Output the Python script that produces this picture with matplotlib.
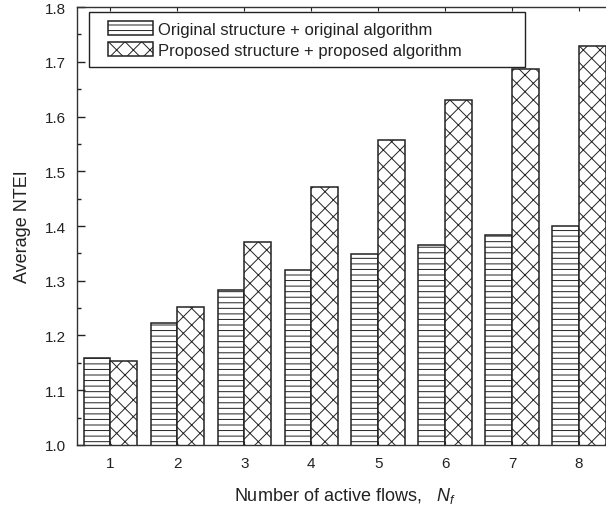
import numpy as np
import matplotlib
matplotlib.use('Agg')
import matplotlib.pyplot as plt
from matplotlib.patches import Rectangle
from matplotlib.legend_handler import HandlerPatch
from matplotlib.ticker import MultipleLocator

plt.rcParams['font.family'] = ['Liberation Sans', 'DejaVu Sans']
plt.rcParams['mathtext.fontset'] = 'custom'
plt.rcParams['mathtext.it'] = 'Liberation Sans:italic'
plt.rcParams['mathtext.rm'] = 'Liberation Sans'
plt.rcParams['hatch.linewidth'] = 0.7

# data
flows = [1, 2, 3, 4, 5, 6, 7, 8]
original = [1.158, 1.223, 1.284, 1.320, 1.349, 1.366, 1.384, 1.400]
proposed = [1.153, 1.252, 1.370, 1.472, 1.557, 1.631, 1.686, 1.729]
labels = ['Original structure + original algorithm',
          'Proposed structure + proposed algorithm']

W, H = 606, 510
fig = plt.figure(figsize=(W / 100, H / 100), dpi=100)
ax = fig.add_axes([77 / W, 1 - 446 / H, 535.5 / W, 438 / H])

x = np.array(flows)
w = 0.4
ax.bar(x - w / 2, original, w, color='white', edgecolor='#222222',
       linewidth=1.1, hatch='---', label=labels[0])
ax.bar(x + w / 2, proposed, w, color='white', edgecolor='#222222',
       linewidth=1.1, hatch='xx', label=labels[1])

ax.set_xlim(0.5, 8.5)
ax.set_ylim(1.0, 1.8)
ax.set_xticks(flows)
ax.yaxis.set_major_locator(MultipleLocator(0.1))
ax.yaxis.set_minor_locator(MultipleLocator(0.05))
ax.yaxis.set_major_formatter('{x:.1f}')
ax.tick_params(axis='y', which='major', direction='in', length=6, width=1,
               labelsize=11, colors='#222222', pad=8)
ax.tick_params(axis='y', which='minor', direction='in', length=3, width=1,
               colors='#222222')
ax.tick_params(axis='x', which='major', direction='in', length=3, width=0.8,
               labelsize=11, colors='#222222', pad=8, top=True)
for s in ax.spines.values():
    s.set_linewidth(1.0)
    s.set_color('#333333')

ax.set_xlabel(r'Number of active flows,   $N_f$', fontsize=13, labelpad=11,
              color='#222222')
ax.set_ylabel('Average NTEI', fontsize=13, labelpad=10, color='#222222')


def _rect(legend, orig_handle, xdescent, ydescent, width, height, fontsize):
    return Rectangle((-xdescent, -ydescent), width, height)


leg = ax.legend(loc='upper left', bbox_to_anchor=(107.5 / W, 1 - 22 / H),
                bbox_transform=fig.transFigure, borderaxespad=0, borderpad=0,
                fontsize=12, handlelength=2.75, handleheight=0.95,
                handletextpad=0.3, labelspacing=0.3, frameon=False,
                handler_map={Rectangle: HandlerPatch(patch_func=_rect)})
for t in leg.get_texts():
    t.set_color('#222222')

# legend frame, wider than its content as in the original
fig.add_artist(Rectangle((89 / W, 1 - 68 / H), 436 / W, 55 / H,
                         transform=fig.transFigure, facecolor='none',
                         edgecolor='#222222', linewidth=1.0, zorder=5))

fig.savefig('out.png', dpi=100)
